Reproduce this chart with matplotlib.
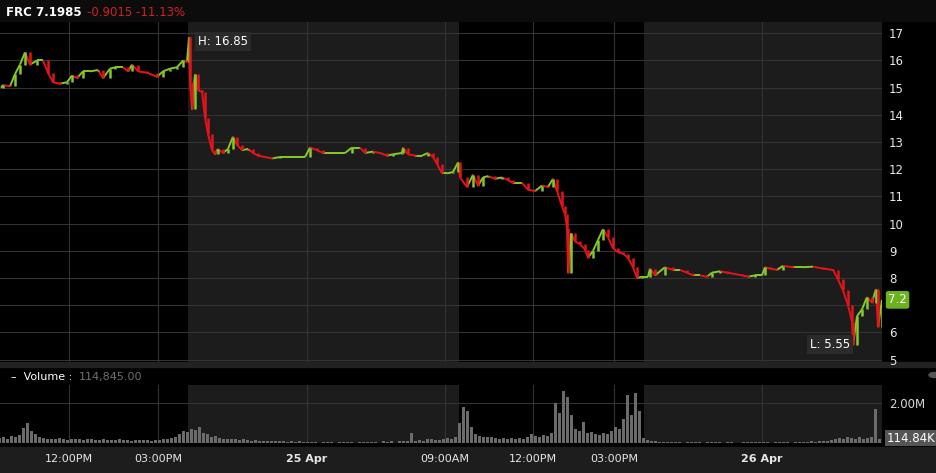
import numpy as np
import matplotlib.pyplot as plt
from matplotlib.collections import LineCollection
from matplotlib.patches import Rectangle

# bar slot (compressed session time) and close price
t = [1, 3, 10, 15, 20, 25, 30, 37, 43, 48, 53, 60, 67, 72, 77, 83, 90, 98, 103, 110,
     115, 123, 128, 132, 138, 147, 157, 163, 170, 177, 183, 187, 189, 190, 192, 195, 198, 202, 205, 208,
     212, 215, 218, 223, 228, 233, 237, 242, 248, 253, 258, 265, 272, 280, 287, 295, 305, 310, 317, 323,
     328, 333, 337, 345, 352, 360, 365, 373, 380, 387, 393, 402, 403, 408, 415, 422, 428, 433, 437, 442,
     447, 453, 458, 460, 467, 473, 478, 483, 488, 495, 502, 508, 513, 522, 528, 535, 542, 548, 553, 557,
     562, 565, 567, 568, 571, 575, 580, 585, 588, 593, 598, 603, 608, 613, 618, 623, 628, 633, 637, 642,
     648, 650, 655, 665, 673, 680, 687, 693, 700, 707, 712, 720, 727, 735, 742, 748, 755, 762, 765, 770,
     777, 783, 793, 803, 813, 823, 833, 838, 843, 848, 852, 853, 857, 862, 867, 872, 876, 878, 882]
close = [15.0, 15.1, 15.05, 15.5, 15.85, 16.3, 15.85, 16.0, 16.0, 15.55, 15.2, 15.15, 15.2, 15.45, 15.35, 15.6, 15.6, 15.65, 15.35, 15.7,
         15.75, 15.75, 15.6, 15.85, 15.6, 15.55, 15.4, 15.6, 15.7, 15.75, 16.0, 15.95, 16.85, 15.2, 14.2, 15.5, 14.9, 14.85, 13.9, 13.3,
         12.7, 12.55, 12.75, 12.6, 12.75, 13.2, 12.9, 12.7, 12.75, 12.6, 12.5, 12.45, 12.4, 12.45, 12.45, 12.45, 12.45, 12.8, 12.7, 12.6,
         12.6, 12.6, 12.6, 12.6, 12.8, 12.8, 12.6, 12.65, 12.6, 12.5, 12.55, 12.6, 12.8, 12.55, 12.5, 12.5, 12.6, 12.45, 12.2, 11.85,
         11.85, 11.9, 12.25, 11.7, 11.35, 11.8, 11.4, 11.7, 11.75, 11.65, 11.7, 11.6, 11.5, 11.5, 11.25, 11.2, 11.4, 11.35, 11.65, 11.2,
         10.65, 10.35, 9.85, 8.2, 9.65, 9.35, 9.25, 9.05, 8.75, 9.0, 9.4, 9.8, 9.5, 9.1, 8.95, 8.9, 8.75, 8.4, 8.0, 8.05,
         8.05, 8.35, 8.1, 8.4, 8.3, 8.3, 8.2, 8.1, 8.1, 8.05, 8.2, 8.25, 8.2, 8.15, 8.1, 8.05, 8.1, 8.1, 8.4, 8.35,
         8.3, 8.45, 8.4, 8.4, 8.42, 8.35, 8.3, 7.95, 7.55, 7.0, 6.4, 5.55, 6.6, 6.85, 7.3, 7.1, 7.6, 6.2, 7.2]

# volume in millions, one bar every 4 slots
vol = [0.25, 0.3, 0.22, 0.35, 0.28, 0.4, 0.75, 1.0, 0.6, 0.45,
       0.3, 0.25, 0.2, 0.22, 0.18, 0.25, 0.2, 0.15, 0.2, 0.18,
       0.22, 0.15, 0.18, 0.2, 0.15, 0.17, 0.2, 0.14, 0.16, 0.15,
       0.18, 0.14, 0.15, 0.12, 0.16, 0.14, 0.13, 0.15, 0.12, 0.14,
       0.15, 0.18, 0.2, 0.25, 0.3, 0.45, 0.6, 0.55, 0.7, 0.65,
       0.8, 0.5, 0.45, 0.3, 0.35, 0.25, 0.2, 0.22, 0.18, 0.2,
       0.15, 0.18, 0.14, 0.12, 0.15, 0.1, 0.12, 0.1, 0.08, 0.1,
       0.08, 0.1, 0.07, 0.09, 0.06, 0.08, 0.05, 0.07, 0.05, 0.06,
       0.0, 0.05, 0.06, 0.05, 0.0, 0.04, 0.05, 0.06, 0.05, 0.0,
       0.05, 0.06, 0.04, 0.05, 0.07, 0.0, 0.08, 0.06, 0.1, 0.0,
       0.08, 0.1, 0.12, 0.5, 0.1, 0.15, 0.12, 0.18, 0.2, 0.15,
       0.15, 0.2, 0.25, 0.22, 0.3, 1.0, 1.8, 1.6, 0.8, 0.45,
       0.35, 0.3, 0.28, 0.3, 0.25, 0.22, 0.25, 0.2, 0.25, 0.22,
       0.25, 0.2, 0.3, 0.45, 0.35, 0.3, 0.4, 0.35, 0.5, 2.0,
       1.5, 2.6, 2.3, 1.4, 0.7, 0.6, 1.05, 0.5, 0.55, 0.45,
       0.4, 0.5, 0.45, 0.6, 0.8, 0.7, 1.2, 2.4, 1.4, 2.5,
       1.6, 0.25, 0.15, 0.1, 0.08, 0.06, 0.05, 0.04, 0.05, 0.06,
       0.05, 0.0, 0.04, 0.05, 0.06, 0.05, 0.0, 0.04, 0.03, 0.05,
       0.04, 0.0, 0.05, 0.04, 0.0, 0.0, 0.05, 0.04, 0.06, 0.05,
       0.04, 0.05, 0.06, 0.0, 0.05, 0.04, 0.06, 0.05, 0.0, 0.04,
       0.05, 0.06, 0.05, 0.08, 0.07, 0.1, 0.12, 0.1, 0.15, 0.2,
       0.25, 0.2, 0.3, 0.25, 0.2, 0.28, 0.22, 0.25, 0.3, 1.7,
       0.2]
vol_t = np.arange(len(vol)) * 4

tick_pos = [69, 158, 307, 445, 533, 614, 762]
tick_lab = ['12:00PM', '03:00PM', '25 Apr', '09:00AM', '12:00PM', '03:00PM', '26 Apr']
ext_hours = [(188, 459), (644, 882)]
price_ticks = list(range(5, 18))
# the "7" label sits under the last-price box
price_labels = ['' if p == 7 else str(p) for p in price_ticks]

UP, DOWN = '#86c92a', '#e3141b'
W, H = 937, 473


def fx(px):
    return px / W


def fy(py):
    return 1 - py / H


fig = plt.figure(figsize=(W / 100, H / 100), dpi=100, facecolor='black')

# bands
fig.patches.append(Rectangle((0, fy(21)), 1, 21 / H, transform=fig.transFigure, color='#0c0c0c', zorder=-1))
fig.patches.append(Rectangle((0, fy(367)), 1, 5 / H, transform=fig.transFigure, color='#222222', zorder=-1))
fig.patches.append(Rectangle((0, 0), 1, 26 / H, transform=fig.transFigure, color='#1d1d1d', zorder=-1))

# price panel
ax = fig.add_axes([0, fy(362), fx(882), 340 / H])
ax.set_facecolor('black')
for a, b in ext_hours:
    ax.axvspan(a, b, color='#1c1c1c', lw=0, zorder=0)

tt = np.array(t)
cc = np.array(close)
segs = [[(tt[i - 1], cc[i - 1]), (tt[i], cc[i])] for i in range(1, len(tt))]
cols = [UP if cc[i] >= cc[i - 1] else DOWN for i in range(1, len(tt))]
ax.add_collection(LineCollection(segs, colors=cols, lw=1.4, zorder=3))
ax.vlines(tt[1:], np.minimum(cc[1:], cc[:-1]), np.maximum(cc[1:], cc[:-1]), colors=cols, lw=1.8, zorder=3)

ax.set_xlim(0, 882)
ax.set_ylim(4.915, 17.415)
ax.set_xticks(tick_pos)
ax.set_yticks(price_ticks, price_labels)
ax.grid(True, color='#333333', lw=0.8)
ax.set_axisbelow(True)
ax.yaxis.tick_right()
ax.tick_params(axis='y', length=0, pad=5, labelsize=8.5, labelcolor='#e8e8e8')
ax.tick_params(axis='x', length=0, labelbottom=False)
for s in ax.spines.values():
    s.set_visible(False)

ax.text(198, 16.7, 'H: 16.85', color='white', fontsize=8.5, va='center',
        bbox=dict(boxstyle='square,pad=0.25', fc='#2a2a2a', ec='none'), zorder=5)
ax.text(810, 5.55, 'L: 5.55', color='white', fontsize=8.5, va='center',
        bbox=dict(boxstyle='square,pad=0.25', fc='#2a2a2a', ec='none'), zorder=5)
ax.text(1.007, 7.2, '7.2', transform=ax.get_yaxis_transform(), color='white', fontsize=8.5, va='center',
        bbox=dict(boxstyle='round,pad=0.2', fc='#6bb21f', ec='none'), zorder=5)

# volume panel
axv = fig.add_axes([0, fy(443), fx(882), 58 / H])
axv.set_facecolor('black')
for a, b in ext_hours:
    axv.axvspan(a, b, color='#1c1c1c', lw=0, zorder=0)
axv.bar(vol_t, vol, width=3.0, color='#6b6b6b', lw=0, zorder=2)
axv.set_xlim(0, 882)
axv.set_ylim(0, 2.9)
axv.set_xticks(tick_pos, tick_lab)
axv.set_yticks([2.0], ['2.00M'])
axv.grid(True, color='#333333', lw=0.8)
axv.set_axisbelow(True)
axv.yaxis.tick_right()
axv.tick_params(axis='y', length=0, pad=5, labelsize=8.5, labelcolor='#d8d8d8')
axv.tick_params(axis='x', length=0, pad=8, labelsize=8, labelcolor='#e6e6e6')
for lab in axv.get_xticklabels():
    if 'Apr' in lab.get_text():
        lab.set_fontweight('bold')
for s in axv.spines.values():
    s.set_visible(False)
axv.text(1.005, 0.25, '114.84K', transform=axv.get_yaxis_transform(), color='white', fontsize=8.5, va='center',
         bbox=dict(boxstyle='square,pad=0.15', fc='#555555', ec='none'))

# headers
fig.text(fx(6), fy(12), 'FRC 7.1985', color='white', fontsize=8.5, fontweight='bold', va='center')
fig.text(fx(87), fy(12), '-0.9015 -11.13%', color='#d42020', fontsize=8.5, va='center')
fig.text(fx(11), fy(377), '–  Volume :', color='white', fontsize=8, va='center')
fig.text(fx(79), fy(377), '114,845.00', color='#707070', fontsize=8, va='center')
fig.patches.append(plt.Circle((fx(934), fy(375)), 5 / W, transform=fig.transFigure, color='#555555'))

fig.savefig('out.png', dpi=100, facecolor=fig.get_facecolor())
